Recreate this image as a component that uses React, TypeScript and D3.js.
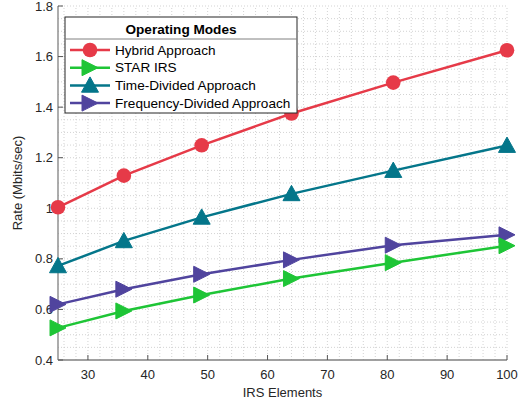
import React from "react";
import * as d3 from "d3";

const xValues = [25, 36, 49, 64, 81, 100];
const hybrid = [1.004, 1.129, 1.249, 1.375, 1.497, 1.625];
const starIrs = [0.527, 0.594, 0.657, 0.722, 0.785, 0.852];
const timeDivided = [0.772, 0.871, 0.964, 1.057, 1.149, 1.248];
const freqDivided = [0.62, 0.68, 0.739, 0.796, 0.854, 0.895];
const xTicks = [30, 40, 50, 60, 70, 80, 90, 100];
const yTicks = [0.4, 0.6, 0.8, 1, 1.2, 1.4, 1.6, 1.8];
const seriesNames = ["Hybrid Approach", "STAR IRS", "Time-Divided Approach", "Frequency-Divided Approach"];
const legendTitle = "Operating Modes";

const W = 526, H = 404;
const m = { left: 58, right: 19, top: 6, bottom: 44 };

type Marker = "circle" | "right" | "up";

function MarkerShape({ type, x, y, color }: { type: Marker; x: number; y: number; color: string }) {
  if (type === "circle") return <circle cx={x} cy={y} r={7.3} fill={color} />;
  if (type === "right") {
    const s = 8;
    return <path d={`M${x - s},${y - s} L${x + s},${y} L${x - s},${y + s} Z`} fill={color} stroke={color} strokeWidth={1} strokeLinejoin="miter" />;
  }
  const s = 8.5;
  return <path d={`M${x - s},${y + s * 0.8} L${x},${y - s} L${x + s},${y + s * 0.8} Z`} fill={color} stroke={color} strokeWidth={1} />;
}

export default function App() {
  const x = d3.scaleLinear().domain([25, 100]).range([m.left, W - m.right]);
  const y = d3.scaleLinear().domain([0.4, 1.8]).range([H - m.bottom, m.top]);
  const series = [
    { name: seriesNames[0], data: hybrid, color: "#e63a48", marker: "circle" as Marker },
    { name: seriesNames[1], data: starIrs, color: "#1ec536", marker: "right" as Marker },
    { name: seriesNames[2], data: timeDivided, color: "#04768a", marker: "up" as Marker },
    { name: seriesNames[3], data: freqDivided, color: "#50449e", marker: "right" as Marker },
  ];
  const drawOrder = [0, 2, 3, 1];
  const line = d3.line<[number, number]>().x((d) => x(d[0])).y((d) => y(d[1]));
  const minorX = d3.range(26, 101, 2);
  const minorY = d3.range(0.45, 1.8001, 0.05);
  const font = "Liberation Sans, Arial, Helvetica, sans-serif";

  const lx = 65, ly = 17, lw = 232, lh = 96;

  return (
    <svg width={W} height={H} style={{ position: "absolute", left: 0, top: 0, background: "#fff" }} fontFamily={font}>
      <rect width={W} height={H} fill="#fff" />
      <g>
        {minorX.map((v) => (
          <line key={"mx" + v} x1={x(v)} x2={x(v)} y1={y(0.4)} y2={y(1.8)} stroke="#c8c8c8" strokeWidth={0.8} strokeDasharray="1,2" />
        ))}
        {minorY.map((v, i) => (
          <line key={"my" + i} x1={x(25)} x2={x(100)} y1={y(v)} y2={y(v)} stroke="#c8c8c8" strokeWidth={0.8} strokeDasharray="1,2" />
        ))}
      </g>
      {/* axes */}
      <line x1={x(25)} x2={x(25)} y1={y(0.4)} y2={y(1.8)} stroke="#808080" strokeWidth={1.3} />
      <line x1={x(25)} x2={x(100)} y1={y(0.4)} y2={y(0.4)} stroke="#808080" strokeWidth={1.3} />
      {xTicks.map((t) => (
        <g key={"xt" + t}>
          <line x1={x(t)} x2={x(t)} y1={y(0.4)} y2={y(0.4) - 5} stroke="#555" strokeWidth={1} />
          <text x={x(t)} y={y(0.4) + 19} textAnchor="middle" fontSize={13} fill="#262626">{t}</text>
        </g>
      ))}
      {yTicks.map((t) => (
        <g key={"yt" + t}>
          <line x1={x(25)} x2={x(25) + 5} y1={y(t)} y2={y(t)} stroke="#555" strokeWidth={1} />
          <text x={x(25) - 5} y={y(t) + 4.5} textAnchor="end" fontSize={13} fill="#262626">{d3.format("")(t)}</text>
        </g>
      ))}
      <text x={x(62.5)} y={397} textAnchor="middle" fontSize={13} fill="#262626">IRS Elements</text>
      <text transform={`translate(22,${y(1.1)}) rotate(-90)`} textAnchor="middle" fontSize={13} fill="#262626">Rate (Mbits/sec)</text>
      {drawOrder.map((i) => {
        const s = series[i];
        const pts = xValues.map((v, j) => [v, s.data[j]] as [number, number]);
        return (
          <g key={s.name}>
            <path d={line(pts) || ""} fill="none" stroke={s.color} strokeWidth={2.5} />
            {pts.map((p, j) => (
              <MarkerShape key={j} type={s.marker} x={x(p[0])} y={y(p[1])} color={s.color} />
            ))}
          </g>
        );
      })}
      {/* legend */}
      <g>
        <rect x={lx} y={ly} width={lw} height={lh} fill="#fff" stroke="#262626" strokeWidth={1} />
        <text x={lx + lw / 2} y={ly + 17} textAnchor="middle" fontSize={13.6} fontWeight="bold" fill="#000">{legendTitle}</text>
        <line x1={lx} x2={lx + lw} y1={ly + 22} y2={ly + 22} stroke="#808080" strokeWidth={1} />
        {series.map((s, i) => {
          const cy = ly + 33 + i * 17.7;
          return (
            <g key={"lg" + i}>
              <line x1={lx + 5} x2={lx + 45} y1={cy} y2={cy} stroke={s.color} strokeWidth={2.5} />
              <MarkerShape type={s.marker} x={lx + 25} y={cy} color={s.color} />
              <text x={lx + 50} y={cy + 4.5} fontSize={13.6} fill="#000">{s.name}</text>
            </g>
          );
        })}
      </g>
    </svg>
  );
}
